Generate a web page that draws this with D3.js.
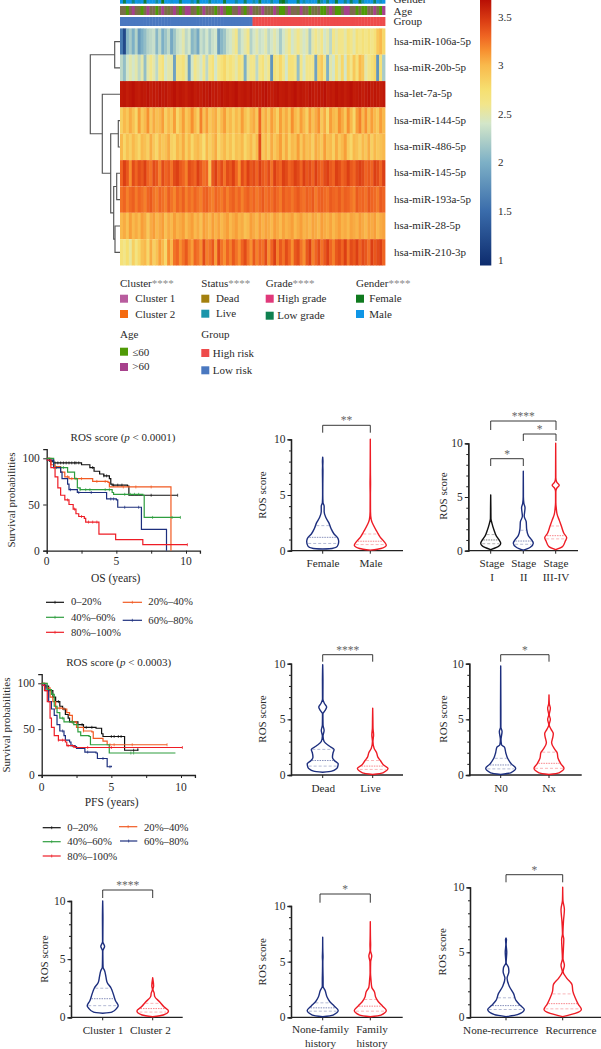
<!DOCTYPE html>
<html><head><meta charset="utf-8">
<script src="https://cdn.jsdelivr.net/npm/d3@7"></script>
<style>
html,body{margin:0;padding:0;background:#fff}
svg{display:block}
text{font-family:"Liberation Serif",serif;fill:#2a2a2a;font-size:11px}
.domain{stroke:#222;stroke-width:1.3}
.tick line{stroke:#222;stroke-width:1}
</style></head><body>
<svg id="c" width="601" height="1049"></svg>
<script>
// ---------- heatmap data ----------
const mirnas=["hsa-miR-106a-5p","hsa-miR-20b-5p","hsa-let-7a-5p","hsa-miR-144-5p","hsa-miR-486-5p","hsa-miR-145-5p","hsa-miR-193a-5p","hsa-miR-28-5p","hsa-miR-210-3p"];
const row106a=[1.6,1.2,2.05,2.2,2.0,2.25,1.85,2.0,2.1,2.25,2.3,2.35,2.05,2.3,2.0,2.15,2.3,1.95,2.15,2.35,2.4,2.5,2.3,2.4,2.05,2.15,1.95,2.35,2.25,2.4,2.2,2.35,2.4,1.85,2.05,2.15,2.35,2.4,2.5,2.6,2.25,2.4,2.5,2.6,2.25,2.4,2.5,2.35,2.4,2.5,2.3,2.4,2.5,2.4,2.2,2.4,2.5,2.6,2.4,2.5,2.6,2.5,2.4,2.5,2.2,2.5,2.6,2.5,2.6,2.4,2.5,2.3,2.6,2.5,2.6,2.6,2.5,2.7,2.6,2.5,2.7,2.6,2.7,2.6,2.7,2.6,2.7,2.9,3.0,2.8];
const row20b=[2.3,2.1,2.4,2.5,2.4,2.5,2.3,2.5,2.1,2.5,2.6,2.5,2.3,2.6,2.7,2.4,2.5,2.5,1.9,2.6,2.6,2.7,2.5,1.9,2.4,2.6,2.5,2.4,2.6,2.3,2.6,2.7,2.4,2.6,2.7,2.8,2.6,2.7,2.6,2.5,2.7,2.6,2.0,2.5,2.6,2.6,2.3,2.6,2.7,2.5,2.6,1.8,2.7,2.6,2.8,2.6,2.4,2.7,2.7,2.6,2.1,2.6,2.4,2.6,2.6,2.6,1.9,2.8,2.9,2.6,2.0,2.5,2.4,2.7,2.5,2.8,2.4,2.8,2.6,2.9,2.7,3.0,2.9,2.5,2.6,2.7,2.8,1.8,2.7,2.2];
const rowLet7a=[3.62,3.64,3.6,3.63,3.66,3.62,3.6,3.64,3.62,3.65,3.6,3.63,3.61,3.65,3.62,3.64,3.6,3.63,3.66,3.61,3.64,3.62,3.59,3.63,3.65,3.61,3.63,3.6,3.64,3.62,3.66,3.61,3.63,3.6,3.65,3.62,3.64,3.61,3.63,3.66,3.6,3.62,3.64,3.61,3.65,3.6,3.63,3.61,3.64,3.66,3.62,3.6,3.63,3.65,3.61,3.62,3.64,3.6,3.63,3.66,3.61,3.64,3.62,3.6,3.65,3.63,3.61,3.64,3.62,3.66,3.6,3.63,3.61,3.65,3.62,3.64,3.6,3.63,3.66,3.61,3.62,3.64,3.6,3.63,3.65,3.61,3.64,3.62,3.6,3.63];
const row144=[2.85,3.0,2.9,3.05,2.95,2.8,3.1,2.9,3.0,3.15,2.9,3.05,2.95,3.0,3.1,2.85,3.0,2.9,3.1,2.8,2.95,3.1,2.9,3.0,3.15,3.0,2.85,3.2,2.95,3.1,2.9,3.0,3.05,2.85,3.0,3.1,2.9,3.0,2.85,3.0,2.9,3.1,2.95,2.85,3.0,3.05,2.9,3.3,2.95,3.05,2.9,3.1,3.0,2.85,3.1,2.95,3.05,2.9,3.15,3.0,2.9,3.1,3.0,2.85,3.1,2.95,3.05,3.15,2.9,3.05,2.8,3.1,3.0,2.95,3.15,3.05,2.9,3.15,3.0,2.8,3.1,3.2,3.0,3.15,2.95,3.1,3.0,2.9,3.1,3.0];
const row486=[3.0,2.8,2.95,2.85,3.0,2.9,2.8,3.0,2.95,2.85,3.05,2.9,2.8,3.0,2.9,2.95,3.05,2.85,2.8,3.0,2.9,3.05,2.85,3.0,2.8,2.95,3.0,2.9,2.75,3.0,2.85,2.95,3.05,2.8,2.9,3.0,2.85,2.95,2.8,2.95,2.9,3.0,2.8,2.9,3.0,2.85,3.0,3.4,2.9,3.0,2.85,3.05,2.9,3.0,3.1,2.9,3.05,2.85,3.0,2.95,3.1,2.9,3.05,2.95,3.0,2.85,3.05,3.0,2.9,3.1,2.95,3.0,2.85,3.05,2.9,3.0,3.1,2.9,2.8,3.0,2.95,2.85,3.0,2.9,3.05,2.85,3.0,2.9,2.95,3.0];
const row145=[3.3,3.45,3.35,3.15,3.4,3.3,3.4,3.35,3.45,3.3,3.25,3.4,3.35,3.2,3.4,3.3,3.35,3.25,3.4,3.45,3.35,3.3,3.2,3.4,3.35,3.3,3.45,3.35,3.25,3.3,2.95,3.35,3.45,3.3,3.4,3.25,3.4,3.35,3.45,3.3,3.15,3.4,3.3,3.45,3.35,3.4,3.3,3.45,3.35,3.3,3.4,3.25,3.45,3.35,3.3,3.45,3.4,3.3,3.35,3.45,3.4,3.3,3.45,3.35,3.4,3.3,3.45,3.35,3.3,3.4,3.45,3.35,3.3,3.45,3.4,3.3,3.35,3.45,3.35,3.3,3.4,3.45,3.4,3.3,3.35,3.3,3.45,3.4,3.3,3.45];
const row193a=[3.25,3.3,3.2,3.28,3.32,3.22,3.3,3.26,3.2,3.3,3.34,3.25,3.2,3.3,3.26,3.2,3.32,3.25,3.18,3.3,3.24,3.32,3.2,3.28,3.22,3.3,3.25,3.2,3.3,3.32,3.24,3.2,3.3,3.26,3.22,3.3,3.2,3.28,3.32,3.24,3.3,3.2,3.28,3.32,3.25,3.3,3.22,3.28,3.34,3.25,3.3,3.26,3.34,3.28,3.22,3.34,3.28,3.3,3.24,3.3,3.35,3.28,3.25,3.32,3.28,3.34,3.22,3.3,3.32,3.28,3.25,3.34,3.3,3.28,3.34,3.26,3.32,3.3,3.25,3.2,3.34,3.28,3.3,3.25,3.35,3.3,3.28,3.22,3.34,3.3];
const row28=[3.0,3.05,2.95,3.1,3.0,3.05,2.98,3.1,3.05,2.9,3.05,3.1,3.0,3.05,3.1,2.95,3.05,3.0,3.1,3.02,3.05,3.1,2.98,3.05,3.1,3.0,3.05,2.95,3.1,3.05,3.0,3.1,3.02,3.08,3.0,3.05,3.1,3.0,3.05,3.1,3.02,3.05,2.95,3.0,3.1,3.05,3.0,3.1,3.02,3.08,3.05,3.0,3.1,3.05,2.98,3.08,3.02,3.05,3.1,3.0,3.05,3.1,3.02,3.05,3.0,3.08,3.05,3.0,3.1,3.05,3.02,3.08,3.0,3.05,3.1,3.02,3.05,3.0,3.08,3.05,3.02,3.1,3.05,3.0,3.08,3.05,3.1,3.0,3.05,3.08];
const row210=[2.7,2.6,2.75,2.55,2.85,2.65,2.8,2.95,3.0,2.8,3.05,2.85,2.95,3.1,3.0,2.8,3.15,3.0,3.25,3.3,3.15,3.25,3.35,3.2,3.1,3.3,3.25,3.15,3.4,3.2,3.25,3.35,3.1,3.4,3.25,3.15,3.3,3.2,3.35,3.25,3.15,3.3,3.4,3.25,3.15,3.35,3.2,3.3,3.25,3.4,3.15,3.3,3.45,3.2,3.35,3.25,3.4,3.3,3.15,3.35,3.4,3.25,3.15,3.35,3.45,3.2,3.3,3.4,3.25,3.35,3.45,3.3,3.2,3.35,3.4,3.3,3.45,3.25,3.4,3.35,3.45,3.3,3.4,3.35,3.25,3.45,3.35,3.4,3.45,3.3];
const heatRows=[row106a,row20b,rowLet7a,row144,row486,row145,row193a,row28,row210];
// share of male samples / >60 samples / high-risk flag in each display column
const genderShare=[1,0.2,1,1,0.5,1,0.9,1,0.1,1,1,1,0.6,1,0,1,1,0.9,1,1,0.3,1,1,1,0.7,1,0.2,1,1,1,0.5,1,0.9,1,1,0.1,1,1,1,0.6,1,1,0.3,1,1,0.7,1,0.2,1,0.9,1,0.6,1,1,0.2,0,0.6,1,1,1,0.3,1,0.7,1,0.9,1,1,0.2,0.7,1,0.4,1,0.9,0.1,1,1,0.5,1,0.3,0.9,1,0.1,0.7,1,1,1,0.3,1,0.8,1];
const ageShare=[0.5,0.5,0,0.6,1,0.5,0.4,0,0.5,1,0.5,0.6,0,0.5,1,0.5,0.4,0.6,1,0.5,0,0.5,1,1,0.4,0.6,0,0.4,1,0.5,0.6,0.5,0,0.6,1,0.5,0,0,0.6,0.5,1,0.5,0,0.6,1,0.5,0.4,0.6,1,0.5,0.5,0.4,1,0.5,0,0,0.5,1,0.5,0.6,0.4,1,0.5,0.6,0,0.5,0.4,0.6,0,0,0.6,1,0.6,0,0,0.5,1,1,0.5,0.6,0,0.5,0,0,0.6,0.5,1,0.5,0,1];
const groupFlag=[0,0,0,0,0,0,0,0,0,0,0,0,0,0,0,0,0,0,0,0,0,0,0,0,0,0,0,0,0,0,0,0,0,0,0,0,0,0,0,0,0,0,0,0,0,1,1,1,1,1,1,1,1,1,1,1,1,1,1,1,1,1,1,1,1,1,1,1,1,1,1,1,1,1,1,1,1,1,1,1,1,1,1,1,1,1,1,1,1,1];
const dendroMerges=[[0,1,5.3],[3,4,1.7],[5,6,3.3],[7,8,5],[11,12,6.3],[10,13,9.3],[2,14,17.7],[9,15,29.7]];
const colorStops=[0.94,1.5,2,2.4,2.6,2.75,3,3.15,3.3,3.45,3.67];
const colorValues=["#0d2b6d","#3a6cab","#7db0c6","#d3e6c9","#f2e58a","#f6df70","#f9b94c","#f79030","#ef6422","#dc3f14","#b80f05"];
const colorTicks=[1,1.5,2,2.5,3,3.5];

// ---------- survival data: [years, percent] ----------
const survivalGroups=["0–20%","20%–40%","40%–60%","60%–80%","80%–100%"];
const survivalColors=["#111111","#f15a22","#2e9e3f","#1d2f7e","#ee1c25"];
const osCurves=[
 [[0,100],[0.2,97],[0.5,95],[2.5,93],[3.1,90],[3.4,86],[3.8,83],[4.1,81],[4.5,78],[4.6,72],[4.7,71],[5.8,70],[5.9,60],[9.4,60]],
 [[0,100],[0.3,93],[0.6,91],[1,85],[1.3,80],[1.6,78],[3.3,75],[4.4,74],[4.5,69],[8.9,69],[8.92,0]],
 [[0,100],[0.5,90],[1.4,90],[1.5,85],[2,78],[2.2,68],[2.4,66],[4.4,66],[4.7,63],[4.8,61],[6.9,60],[7,36],[9.6,36]],
 [[0,98],[0.5,90],[1,85],[1.1,78],[1.5,72],[1.6,66],[2.1,66],[2.2,63],[4.2,63],[4.3,56],[5,55],[5.1,47],[6.7,47],[6.8,23],[8.55,23],[8.6,0]],
 [[0,98],[0.3,90],[0.6,80],[0.8,68],[1,60],[1.3,55],[1.6,50],[1.9,45],[2.1,40],[2.3,37],[2.7,35],[2.8,31],[3.7,31],[3.75,18],[4.9,18],[4.95,12],[6.8,12],[6.9,6.5],[10.1,6.5]]];
const osCensored=[
 [0.4,0.6,0.8,1,1.2,1.4,1.6,1.8,2,2.1,2.3,3.3,4.1,4.3,4.8,5.1,5.4,7.5,9.4],
 [0.6,1.5,1.8,2.1,2.5,3.6,4.2,5.5,6.4,7.5],
 [0.7,1,1.2,2.4,2.8,3.1,4.2,4.5,5.6,6,6.3,6.6,7.6,9,9.6],
 [1.7,2.3,3.2,4.6,4.8,5.6,6.6],
 [1.5,2,2.5,3,3.3,3.6,10.1]];
const pfsCurves=[
 [[0,100],[0.2,97],[0.5,92],[0.8,85],[1,80],[1.3,75],[1.5,72],[1.7,66],[1.9,62],[2,58],[2.5,58],[2.6,55],[3,52],[3.9,51],[4.3,45],[4.4,42],[5.9,42],[5.95,27],[6.9,28]],
 [[0,100],[0.3,95],[0.6,85],[0.8,80],[1,73],[1.5,72],[1.8,68],[2,65],[2.2,58],[2.5,52],[3,48],[3.6,47],[3.7,40],[4.4,37],[4.7,33],[9,33]],
 [[0,100],[0.4,93],[0.7,88],[0.9,75],[1.1,68],[1.3,62],[1.6,58],[2.3,55],[2.6,47],[2.8,43],[3.4,42],[3.5,33],[4.8,33],[4.85,24],[9.6,24]],
 [[0,98],[0.3,92],[0.5,80],[0.7,72],[0.9,65],[1.1,55],[1.3,48],[1.6,43],[1.7,38],[2,36],[2.1,32],[2.4,31],[2.5,29],[3,29],[3.1,25],[3.9,24],[4,18],[4.6,18],[4.7,9],[5,10]],
 [[0,98],[0.2,92],[0.4,80],[0.6,62],[0.7,52],[0.9,43],[1.2,38],[1.7,36],[1.8,32],[2.3,31],[2.4,30],[10.1,30]]];
const pfsCensored=[
 [1.2,1.6,2.2,2.9,3.2,3.6,5,5.2,5.5,5.7,6.6,6.9],
 [1,1.3,2.2,3,4.9,5.2,6.5,9],
 [0.8,1.5,2.2,6.4,6.6],
 [1.5,2.2,3.3,4.4,4.9],
 [1.2,1.5,1.9,2.3,3.3,5,10.1]];

// ---------- violin data: [score, relative width] ----------
const vFemale=[[0.15,0],[0.2,.5],[0.4,.9],[0.8,1],[1.1,.95],[1.5,.65],[2,.42],[2.5,.28],[3,.16],[3.5,.1],[4,.1],[4.3,.05],[5,.015],[6,.02],[7.2,.04],[7.6,.02],[8,.04],[8.4,0]];
const vMale=[[0.05,0],[0.2,.6],[0.5,1],[0.8,.85],[1.2,.55],[1.7,.3],[2.3,.16],[2.8,.08],[3.5,.03],[5,.02],[6,.04],[7,.02],[10,0]];
const vStage1=[[0.1,0],[0.3,.5],[0.7,1],[1,.8],[1.4,.45],[1.9,.25],[2.5,.13],[3,.06],[4,.04],[5.2,0]];
const vStage2=[[0.05,0],[0.3,.6],[0.7,1],[1,.8],[1.4,.4],[2,.25],[2.7,.22],[3.2,.1],[4,.15],[4.4,.08],[5,.03],[6,.02],[7.4,0]];
const vStage3=[[0.1,0],[0.4,.55],[0.9,.85],[1.2,1],[1.6,.7],[2.2,.45],[2.8,.25],[3.4,.12],[3.9,.08],[4.5,.03],[5.5,.03],[5.8,.1],[6.1,.24],[6.4,.1],[6.8,.03],[8,.02],[10,0]];
const vDead=[[.25,0],[.35,.5],[.7,.95],[1,1],[1.3,.7],[1.6,.55],[2,.6],[2.3,.68],[2.6,.3],[3,.1],[3.5,.05],[4,.1],[4.5,.05],[5.5,.03],[5.8,.14],[6.1,.2],[6.4,.12],[6.8,.03],[8.5,.04],[9.9,0]];
const vLive=[[.05,0],[.2,.6],[.6,1],[.9,.65],[1.3,.4],[1.6,.25],[2,.2],[2.4,.1],[3,.04],[3.6,.08],[4.2,.05],[5,.03],[6,0]];
const vN0=[[.05,0],[.2,.6],[.6,1],[1,.65],[1.5,.35],[2,.25],[2.5,.2],[2.7,.08],[3.2,.05],[3.9,.1],[4.3,.03],[6,.03],[9.8,0]];
const vNx=[[.05,0],[.2,.6],[.6,1],[1,.75],[1.5,.52],[2,.45],[2.3,.28],[2.9,.15],[3.4,.2],[3.7,.22],[4.1,.13],[4.5,.03],[5,.1],[5.4,.04],[6,.1],[6.4,.05],[7.2,0]];
const vCluster1=[[.35,0],[.45,.5],[.8,.9],[1,1],[1.4,.8],[2,.62],[2.5,.45],[3,.22],[3.5,.17],[4,.12],[4.3,.06],[5,.03],[5.7,.02],[6.1,.12],[6.5,.02],[8.5,.04],[10,0]];
const vCluster2=[[.05,0],[.2,.6],[.55,1],[.9,.65],[1.3,.35],[1.8,.12],[2.1,.1],[2.4,.04],[2.7,.08],[3.4,0]];
const vNoFamily=[[.05,0],[.2,.6],[.6,1],[1,.7],[1.4,.35],[1.8,.22],[2.4,.14],[2.8,.06],[3.4,.06],[4,.04],[5,.02],[5.4,.05],[6,.02],[7.2,0]];
const vFamily=[[.05,0],[.2,.6],[.6,1],[1,.72],[1.4,.4],[1.8,.25],[2.3,.2],[2.7,.1],[3.4,.07],[4,.03],[5,.05],[5.5,.1],[6,.03],[6.5,.05],[7,.03],[8.6,0]];
const vNoRec=[[.05,0],[.2,.55],[.6,1],[.9,.75],[1.3,.45],[1.8,.3],[2.4,.15],[3,.08],[3.5,.14],[3.8,.13],[4.2,.02],[5,.07],[5.6,.02],[6,.06],[6.1,0]];
const vRec=[[.05,0],[.3,.6],[.6,1],[1,.8],[1.5,.6],[2,.45],[2.5,.4],[3,.18],[3.5,.05],[4,.1],[4.5,.04],[6,.08],[6.4,.03],[7.4,.07],[8.3,.1],[9,.03],[10,0]];

const NAVY="#1d2f7e",RED="#ee1c25",BLK="#111";
const panels=[
 {ax:291,right:403,top:439.3,bot:550.7,lx:262.7,ly:495,base:567,
  items:[{n:["Female"],c:322.7,lc:323,w:16,col:NAVY,v:vFemale,q:[.65,1.2,2.25]},{n:["Male"],c:370.3,lc:371,w:16,col:RED,v:vMale,q:[.55,.85,1.5]}],
  br:[{a:322.7,b:370.3,y:425.3,e:432.7,s:"**"}]},
 {ax:468.3,right:578,top:443.3,bot:550.7,lx:443,ly:496,base:567,
  items:[{n:["Stage","I"],c:490.7,lc:492,w:10,col:BLK,v:vStage1,q:[.65,1,1.5]},{n:["Stage","II"],c:523.3,lc:523.7,w:10,col:NAVY,v:vStage2,q:[.6,.9,1.9]},{n:["Stage","III-IV"],c:555.7,lc:556,w:11,col:RED,v:vStage3,q:[1.1,1.4,2.3]}],
  br:[{a:490.7,b:556,y:421,e:430,s:"****"},{a:523.3,b:556,y:434,e:441,s:"*"},{a:490.7,b:523.3,y:458.7,e:466,s:"*"}]},
 {ax:291,right:403,top:663.7,bot:775,lx:262.7,ly:719,base:791.7,
  items:[{n:["Dead"],c:322.7,lc:323.3,w:15.5,col:NAVY,v:vDead,q:[.8,1.3,2.3]},{n:["Live"],c:372.7,lc:370.5,w:15.3,col:RED,v:vLive,q:[.5,.8,1.3]}],
  br:[{a:322.7,b:372.7,y:654.7,e:661.7,s:"****"}]},
 {ax:469.3,right:581.7,top:663.7,bot:775,lx:443,ly:719,base:791.7,
  items:[{n:["N0"],c:500.7,lc:501,w:15,col:NAVY,v:vN0,q:[.55,.9,1.5]},{n:["Nx"],c:549,lc:549,w:15,col:RED,v:vNx,q:[.6,1.05,2.05]}],
  br:[{a:500.7,b:549,y:654.7,e:661.7,s:"*"}]},
 {ax:71,right:182.7,top:901,bot:1017.3,lx:44,ly:959,base:1034,
  items:[{n:["Cluster 1"],c:102.7,lc:103,w:15.5,col:NAVY,v:vCluster1,q:[1,1.6,2.5]},{n:["Cluster 2"],c:152.7,lc:150.4,w:15.8,col:RED,v:vCluster2,q:[.45,.75,1.2]}],
  br:[{a:102.7,b:152.7,y:890,e:898,s:"****"}]},
 {ax:291,right:402.7,top:906,bot:1017.3,lx:263,ly:961.7,base:1033,
  items:[{n:["None-family","history"],c:322.7,lc:320.5,w:15.5,col:NAVY,v:vNoFamily,q:[.55,.85,1.3]},{n:["Family","history"],c:370.3,lc:372,w:16,col:RED,v:vFamily,q:[.55,1,1.6]}],
  br:[{a:320,b:370.3,y:894,e:902.7,s:"*"}]},
 {ax:470,right:601,top:887.3,bot:1017.3,lx:443,ly:951.7,base:1034,
  items:[{n:["None-recurrence"],c:506,lc:500.7,w:18.3,col:NAVY,v:vNoRec,q:[.6,.9,1.5]},{n:["Recurrence"],c:562.7,lc:571,w:18.7,col:RED,v:vRec,q:[.65,1.05,1.8]}],
  br:[{a:506,b:562.7,y:874.7,e:882.3,s:"*"}]}
];

const svg=d3.select("#c");
function txt(x,y,s,opt={}){
  const t=svg.append("text").attr("x",x).attr("y",y).text(s);
  if(opt.anchor)t.attr("text-anchor",opt.anchor);
  if(opt.size)t.style("font-size",opt.size+"px");
  if(opt.fill)t.style("fill",opt.fill);
  if(opt.rot)t.attr("transform",`rotate(${opt.rot} ${x} ${y})`);
  return t;
}

// ---------- heatmap ----------
const color=d3.scaleLinear().domain(colorStops).range(colorValues).clamp(true);
const hx=d3.scaleBand().domain(d3.range(row106a.length)).range([120,385]);
const hy=d3.scaleBand().domain(d3.range(heatRows.length)).range([28.4,265.5]);
heatRows.forEach((row,i)=>{
  svg.append("g").selectAll("rect").data(row).join("rect")
    .attr("x",(d,j)=>hx(j)).attr("y",hy(i)).attr("width",hx.bandwidth()+.4).attr("height",hy.bandwidth())
    .attr("fill",d=>color(d));
});
const genderCol=d3.scaleLinear().domain([0,1]).range(["#0f7a1e","#0f96e6"]);
const ageCol=d3.scaleLinear().domain([0,1]).range(["#4f9a06","#a7418c"]);
const groupCol=d3.scaleOrdinal().domain([0,1]).range(["#4a78c0","#ee4b4b"]);
[[genderShare,genderCol,0,3.7],[ageShare,ageCol,6,9],[groupFlag,groupCol,17,9]].forEach(([arr,sc,y,h])=>{
  svg.append("g").selectAll("rect").data(arr).join("rect")
    .attr("x",(d,j)=>hx(j)).attr("y",y).attr("width",hx.bandwidth()+.4).attr("height",h).attr("fill",d=>sc(d));
});
txt(393.5,2.7,"Gender****",{size:11.2});
txt(393.5,14.7,"Age",{size:11.2});
txt(393.5,24.7,"Group",{size:11.2});
mirnas.forEach((m,i)=>txt(394,hy(i)+hy.bandwidth()/2+3.2,m,{size:11}));

// dendrogram
const dx=d3.scaleLinear().domain([0,29.7]).range([120,90.3]);
const nodes=mirnas.map((m,i)=>({y:hy(i)+hy.bandwidth()/2,h:0}));
const dg=svg.append("g").attr("fill","none").attr("stroke","#555").attr("stroke-width",1.15);
dendroMerges.forEach(([a,b,h])=>{
  const A=nodes[a],B=nodes[b];
  dg.append("path").attr("d",`M${dx(A.h)},${A.y}H${dx(h)}V${B.y}H${dx(B.h)}`);
  nodes.push({y:(A.y+B.y)/2,h});
});

// colour bar
const barY=d3.scaleLinear().domain([0.94,3.67]).range([265.5,0]);
const grad=svg.append("defs").append("linearGradient").attr("id","cb").attr("x1",0).attr("x2",0).attr("y1",1).attr("y2",0);
colorStops.forEach((v,i)=>grad.append("stop").attr("offset",(v-0.94)/(3.67-0.94)).attr("stop-color",colorValues[i]));
svg.append("rect").attr("x",480).attr("y",0).attr("width",11.3).attr("height",265.5).attr("fill","url(#cb)");
colorTicks.forEach(t=>txt(498,barY(t)+4,t,{size:11}));

// heatmap legend
const legendBlocks=[
 {t:"Cluster",st:"****",x:120,y:287.3,tx:135.3,items:[["Cluster 1","#b85c9e",294.7,302.3],["Cluster 2","#f56a0f",310,317.7]]},
 {t:"Status",st:"****",x:201.3,y:287.3,tx:216,items:[["Dead","#a3800f",294.7,302.3],["Live","#1a95ab",309.7,317]]},
 {t:"Grade",st:"****",x:265.7,y:287.3,tx:277.3,items:[["High grade","#e0397a",294.7,302.3],["Low grade","#0f8050",311.7,318.7]]},
 {t:"Gender",st:"****",x:356,y:287.3,tx:369.3,items:[["Female","#0f7a1e",294.7,302.3],["Male","#0f96e6",310,317.7]]},
 {t:"Age",st:"",x:120,y:338.3,tx:132.3,items:[["≤60","#4f9a06",347.7,355.7],[">60","#a7418c",363,370]]},
 {t:"Group",st:"",x:201.3,y:338.3,tx:212.8,items:[["High risk","#ee4b4b",349,356.7],["Low risk","#4a78c0",366.3,374]]}
];
legendBlocks.forEach(b=>{
  const t=txt(b.x,b.y,b.t,{size:11});
  if(b.st)t.append("tspan").text(b.st).style("fill","#8a8a8a");
  b.items.forEach(([n,c,sy,by])=>{
    svg.append("rect").attr("x",b.x).attr("y",sy).attr("width",8).attr("height",8).attr("fill",c);
    txt(b.tx,by,n,{size:11});
  });
});

// ---------- survival ----------
function survival(cfg){
  const x=d3.scaleLinear().domain([0,11]).range([cfg.x0,cfg.x0+11*13.93]);
  const y=d3.scaleLinear().domain([0,100]).range([cfg.y0,cfg.y100]);
  const g=svg.append("g");
  g.append("g").attr("transform",`translate(0,${cfg.y0})`).call(d3.axisBottom(x).tickValues([0,2.5,5,7.5,10]).tickSize(3).tickFormat(""));
  g.append("g").attr("transform",`translate(${cfg.x0},0)`).call(d3.axisLeft(d3.scaleLinear().domain([0,110]).range([cfg.y0,cfg.y0-(cfg.y0-cfg.y100)*1.1])).tickValues([0,50,100]).tickSize(3.5).tickFormat(""));
  [0,5,10].forEach(t=>txt(x(t),cfg.tickBase,t,{anchor:"middle",size:11.5}));
  [0,50,100].forEach(t=>txt(cfg.x0-7,y(t)+4,t,{anchor:"end",size:11.5}));
  const line=d3.line().x(d=>x(d[0])).y(d=>y(d[1])).curve(d3.curveStepAfter);
  cfg.curves.forEach((c,i)=>{
    g.append("path").attr("d",line(c)).attr("fill","none").attr("stroke",survivalColors[i]).attr("stroke-width",1.2);
    const bis=d3.bisector(d=>d[0]).right;
    g.append("g").selectAll("line").data(cfg.cens[i]).join("line")
      .attr("x1",d=>x(d)).attr("x2",d=>x(d))
      .attr("y1",d=>y(c[Math.max(0,bis(c,d)-1)][1])-1.5)
      .attr("y2",d=>y(c[Math.max(0,bis(c,d)-1)][1])+1.5)
      .attr("stroke",survivalColors[i]).attr("stroke-width",.7);
  });
  const t=txt(cfg.tx,cfg.ty,"ROS score (",{anchor:"middle",size:11});
  t.append("tspan").text("p").style("font-style","italic");
  t.append("tspan").text(cfg.p+")");
  txt(cfg.ylx,cfg.yly,"Survival probabilities",{anchor:"middle",size:11,rot:-90});
  txt(cfg.xlx,cfg.xly,cfg.xl,{anchor:"middle",size:11.5});
  cfg.legend.forEach(([i,x1,x2,ly,tx,by])=>{
    svg.append("line").attr("x1",x1).attr("x2",x2).attr("y1",ly).attr("y2",ly).attr("stroke",survivalColors[i]).attr("stroke-width",1.2);
    svg.append("line").attr("x1",(x1+x2)/2).attr("x2",(x1+x2)/2).attr("y1",ly-1.5).attr("y2",ly+1.5).attr("stroke",survivalColors[i]).attr("stroke-width",.7);
    txt(tx,by,survivalGroups[i],{size:10.7});
  });
}
survival({x0:46.7,y0:550.7,y100:458.3,curves:osCurves,cens:osCensored,tickBase:565,tx:123,ty:440.7,p:" < 0.0001",ylx:14.5,yly:500,xlx:115.7,xly:582,xl:"OS (years)",
  legend:[[0,46,64,602.3,71,605],[1,122.7,142,602.3,148.3,605],[2,46,64,617.3,71,621],[3,122.7,142,620.3,148.3,624],[4,46,64,632.3,71,636]]});
survival({x0:41.7,y0:775,y100:683.3,curves:pfsCurves,cens:pfsCensored,tickBase:790.7,tx:118.7,ty:666,p:" < 0.0003",ylx:9.5,yly:725,xlx:111.7,xly:806,xl:"PFS (years)",
  legend:[[0,42.7,60.7,827.7,67.3,831],[1,119,137.3,826.7,144,831],[2,42.7,60.7,841.7,67.3,845],[3,120,137.3,841,144,845],[4,42.7,60.7,856,67.3,860]]});

// ---------- violins ----------
panels.forEach(p=>{
  const y=d3.scaleLinear().domain([0,10]).range([p.bot,p.top]);
  const g=svg.append("g");
  g.append("g").attr("transform",`translate(${p.ax},0)`).call(d3.axisLeft(y).tickValues([0,5,10]).tickSize(3.5).tickFormat(""));
  g.append("g").attr("transform",`translate(${p.ax},0)`).call(d3.axisLeft(y).tickValues(d3.range(1,10)).tickSize(2).tickFormat(""));
  g.append("line").attr("x1",p.ax).attr("x2",p.right).attr("y1",p.bot).attr("y2",p.bot).attr("stroke","#222").attr("stroke-width",1.3);
  [0,5,10].forEach(t=>txt(p.ax-5.5,y(t)+4,t,{anchor:"end",size:11.5}));
  txt(p.lx+3.5,p.ly,"ROS score",{anchor:"middle",size:11,rot:-90});
  p.items.forEach(it=>{
    g.append("line").attr("x1",it.c).attr("x2",it.c).attr("y1",p.bot).attr("y2",p.bot+3).attr("stroke","#222");
    const w=d3.scaleLinear().domain([0,.06,.3,1]).range([0,.025*it.w,.42*it.w,it.w]);
    const area=d3.area().y(d=>y(d[0])).x0(d=>it.c-w(d[1])).x1(d=>it.c+w(d[1])).curve(d3.curveMonotoneY);
    g.append("path").attr("d",area(it.v)).attr("fill","#fff").attr("stroke",it.col).attr("stroke-width",1.4).attr("stroke-linejoin","round");
    const dens=d3.scaleLinear().domain(it.v.map(d=>d[0])).range(it.v.map(d=>d[1]));
    it.q.forEach((q,i)=>{
      g.append("line").attr("x1",it.c-w(dens(q))+1).attr("x2",it.c+w(dens(q))-1).attr("y1",y(q)).attr("y2",y(q))
        .attr("stroke",it.col).attr("stroke-width",.6).attr("stroke-dasharray",i==1?"1.5 1":"3 2").attr("stroke-opacity",i==1?.9:.55);
    });
    it.n.forEach((l,i)=>txt(it.lc,p.base+i*14.2,l,{anchor:"middle",size:11.2}));
  });
  p.br.forEach(b=>{
    g.append("path").attr("d",`M${b.a},${b.e}V${b.y}H${b.b}V${b.e}`).attr("fill","none").attr("stroke","#222").attr("stroke-width",.9);
    txt((b.a+b.b)/2,b.y-1,b.s,{anchor:"middle",size:11.5,fill:"#666"});
  });
});
</script>
</body></html>
